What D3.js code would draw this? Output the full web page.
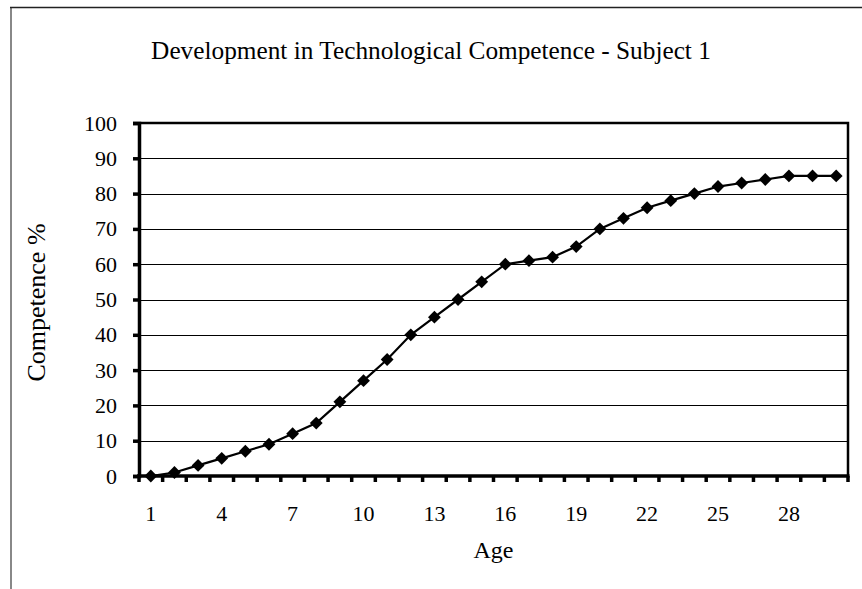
<!DOCTYPE html>
<html>
<head>
<meta charset="utf-8">
<script src="https://cdn.jsdelivr.net/npm/d3@7"></script>
<style>
  body { margin: 0; background: #fff; }
  svg { display: block; }
  text { font-family: "Liberation Serif", "Times New Roman", serif; fill: #000; }
</style>
</head>
<body>
<svg id="chart" width="862" height="589"></svg>
<script>
const ages = d3.range(1, 31);
const competence = [0, 1, 3, 5, 7, 9, 12, 15, 21, 27, 33, 40, 45, 50, 55,
                    60, 61, 62, 65, 70, 73, 76, 78, 80, 82, 83, 84, 85, 85, 85];
const yTicks = [0, 10, 20, 30, 40, 50, 60, 70, 80, 90, 100];
const xLabels = [1, 4, 7, 10, 13, 16, 19, 22, 25, 28];

const svg = d3.select('#chart');
const W = 862, H = 589;
const plot = { left: 139, right: 848, top: 123, bottom: 476 };

// chart area border (only left and top visible)
svg.append('line').attr('x1', 11).attr('y1', 7).attr('x2', 11).attr('y2', H)
  .attr('stroke', '#888').attr('stroke-width', 2);
svg.append('line').attr('x1', 10).attr('y1', 7.5).attr('x2', W).attr('y2', 7.5)
  .attr('stroke', '#222').attr('stroke-width', 1.5);

const x = d3.scaleBand().domain(ages).range([plot.left, plot.right]);
const y = d3.scaleLinear().domain([0, 100]).range([plot.bottom, plot.top]);

// gridlines
svg.append('g')
  .selectAll('line')
  .data(yTicks.slice(1))
  .join('line')
  .attr('x1', plot.left).attr('x2', plot.right)
  .attr('y1', d => Math.round(y(d)) + 0.5).attr('y2', d => Math.round(y(d)) + 0.5)
  .attr('stroke', '#000').attr('stroke-width', 1);

// plot area border (top & right)
svg.append('path')
  .attr('d', `M${plot.left},${plot.top}H${plot.right}V${plot.bottom}`)
  .attr('fill', 'none').attr('stroke', '#000').attr('stroke-width', 2.5);

// y axis
const yAxis = svg.append('g')
  .attr('transform', `translate(${plot.left},0)`)
  .call(d3.axisLeft(y).tickValues(yTicks).tickSize(6).tickPadding(16).tickFormat(d3.format('d')));
yAxis.select('.domain').attr('stroke', '#000').attr('stroke-width', 3.5);
yAxis.selectAll('.tick line').attr('stroke', '#000').attr('stroke-width', 3.5);
yAxis.selectAll('text').style('font-size', '22px').attr('fill', '#000');

// x axis: tick marks at category boundaries, labels every third category
const bounds = ages.map(a => x(a)).concat([plot.right]);
const xg = svg.append('g');
xg.append('line')
  .attr('x1', plot.left - 2).attr('x2', plot.right + 1.5)
  .attr('y1', plot.bottom).attr('y2', plot.bottom)
  .attr('stroke', '#000').attr('stroke-width', 3.5);
xg.selectAll('.tk')
  .data(bounds)
  .join('line')
  .attr('class', 'tk')
  .attr('x1', d => d).attr('x2', d => d)
  .attr('y1', plot.bottom).attr('y2', plot.bottom + 6)
  .attr('stroke', '#000').attr('stroke-width', 3.5);
xg.selectAll('.lbl')
  .data(xLabels)
  .join('text')
  .attr('class', 'lbl')
  .attr('x', d => x(d) + x.bandwidth() / 2)
  .attr('y', 521)
  .attr('text-anchor', 'middle')
  .style('font-size', '22px')
  .text(d => d);

// series line
const line = d3.line()
  .x((d, i) => x(ages[i]) + x.bandwidth() / 2)
  .y(d => y(d));
svg.append('path')
  .datum(competence)
  .attr('d', line)
  .attr('fill', 'none')
  .attr('stroke', '#000')
  .attr('stroke-width', 2.2);

// diamond markers
const diamond = d3.symbol().type(d3.symbolDiamond2).size(105);
svg.append('g')
  .selectAll('path')
  .data(competence)
  .join('path')
  .attr('transform', (d, i) => `translate(${x(ages[i]) + x.bandwidth() / 2},${y(d)})`)
  .attr('d', diamond)
  .attr('fill', '#000');

// titles
svg.append('text')
  .attr('x', 431).attr('y', 59)
  .attr('text-anchor', 'middle')
  .style('font-size', '25.3px')
  .text('Development in Technological Competence - Subject 1');

svg.append('text')
  .attr('x', (plot.left + plot.right) / 2).attr('y', 558)
  .attr('text-anchor', 'middle')
  .style('font-size', '24px')
  .text('Age');

svg.append('text')
  .attr('transform', `translate(45,${(plot.top + plot.bottom) / 2 + 3}) rotate(-90)`)
  .attr('text-anchor', 'middle')
  .style('font-size', '26px')
  .text('Competence %');
</script>
</body>
</html>
